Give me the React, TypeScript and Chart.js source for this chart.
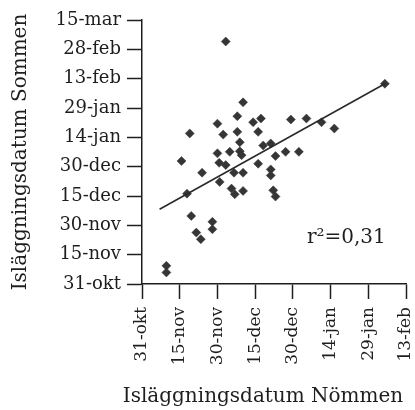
import React, { useEffect, useRef } from 'react';
import { Chart, registerables } from 'chart.js';

Chart.register(...registerables);

// Days counted from 31 October
const xTickLabels = ['31-okt', '15-nov', '30-nov', '15-dec', '30-dec', '14-jan', '29-jan', '13-feb'];
const yTickLabels = ['31-okt', '15-nov', '30-nov', '15-dec', '30-dec', '14-jan', '29-jan', '13-feb', '28-feb', '15-mar'];

const nommenDays = [
  33.3, 96.6, 40.2, 37.9, 30.0, 44.2, 47.3, 59.2, 65.4, 71.4, 76.5, 19.0,
  32.3, 37.9, 46.2, 38.9, 48.2, 51.2, 30.0, 34.9, 38.9, 39.6, 53.1, 57.1,
  62.4, 15.7, 30.7, 33.3, 46.2, 23.9, 36.6, 40.2, 51.2, 51.2, 30.9, 35.6,
  36.9, 40.2, 52.2, 53.1, 17.9, 19.6, 21.6, 23.4, 28.0, 28.0, 9.7, 9.7,
];
const sommenDays = [
  124.0, 102.4, 92.9, 85.8, 82.0, 82.7, 84.6, 84.1, 84.6, 82.7, 79.5, 77.0,
  76.4, 77.8, 77.8, 72.5, 70.8, 71.9, 66.8, 67.6, 67.9, 65.9, 65.4, 67.6,
  67.6, 62.9, 62.0, 60.8, 61.5, 56.9, 56.9, 56.9, 58.6, 55.5, 52.2, 48.8,
  45.9, 47.6, 47.9, 44.7, 46.2, 34.8, 26.3, 22.9, 31.8, 28.0, 9.3, 5.9,
];

const trendX = [7.0, 96.6];
const trendY = [38.2, 102.4];

const xTitle = 'Isläggningsdatum Nömmen';
const yTitle = 'Isläggningsdatum Sommen';
const r2Label = 'r²=0,31';
const r2Pos = { x: 65.6, y: 21 };

const FONT = '"DejaVu Serif", "Liberation Serif", serif';
const INK = '#1e1e1e';

const textPlugin = {
  id: 'texts',
  afterDraw(chart: any) {
    const { ctx, chartArea, scales } = chart;
    ctx.save();
    ctx.fillStyle = INK;
    ctx.font = `20px ${FONT}`;
    // r² annotation
    ctx.textAlign = 'left';
    ctx.textBaseline = 'alphabetic';
    ctx.fillText(r2Label, scales.x.getPixelForValue(r2Pos.x), scales.y.getPixelForValue(r2Pos.y));
    // x title
    ctx.textAlign = 'center';
    ctx.textBaseline = 'middle';
    ctx.fillText(xTitle, (chartArea.left + chartArea.right) / 2 - 11, chart.height - 13);
    // y title
    ctx.translate(21, (chartArea.top + chartArea.bottom) / 2);
    ctx.rotate(-Math.PI / 2);
    ctx.fillText(yTitle, 0, 0);
    ctx.restore();
  },
};

export default function App() {
  const ref = useRef<HTMLCanvasElement | null>(null);

  useEffect(() => {
    if (!ref.current) return;
    const points = nommenDays.map((x, i) => ({ x, y: sommenDays[i] }));
    const trend = trendX.map((x, i) => ({ x, y: trendY[i] }));
    const chart = new Chart(ref.current, {
      type: 'scatter',
      data: {
        datasets: [
          {
            type: 'line',
            data: trend,
            borderColor: '#2a2a2a',
            borderWidth: 1.6,
            pointRadius: 0,
            fill: false,
          } as any,
          {
            data: points,
            pointStyle: 'rectRot',
            pointRadius: 4.5,
            backgroundColor: '#353535',
            borderColor: '#353535',
            borderWidth: 0.5,
          },
        ],
      },
      options: {
        responsive: false,
        animation: false,
        layout: { padding: { top: 20, right: 9, left: 0, bottom: 0 } },
        plugins: { legend: { display: false }, tooltip: { enabled: false } },
        scales: {
          x: {
            type: 'linear',
            min: 0,
            max: 105,
            afterFit: (s: any) => { s.height = 126; s.paddingLeft = 0; s.paddingRight = 0; },
            ticks: {
              stepSize: 15,
              minRotation: 90,
              maxRotation: 90,
              padding: 8,
              color: INK,
              font: { family: FONT, size: 17 },
              callback: (_v: any, i: number) => xTickLabels[i],
            },
            grid: { drawOnChartArea: false, drawTicks: true, tickLength: 15, tickColor: INK, tickWidth: 1.5 },
            border: { display: true, color: INK, width: 1.5 },
          },
          y: {
            type: 'linear',
            min: 0,
            max: 135,
            afterFit: (s: any) => { s.width = 142; s.paddingTop = 0; s.paddingBottom = 0; },
            ticks: {
              stepSize: 15,
              padding: 6,
              color: INK,
              font: { family: FONT, size: 18 },
              callback: (_v: any, i: number) => yTickLabels[i],
            },
            grid: { drawOnChartArea: false, drawTicks: true, tickLength: 15, tickColor: INK, tickWidth: 1.5 },
            border: { display: true, color: INK, width: 1.5 },
          },
        },
      },
      plugins: [textPlugin],
    });
    return () => chart.destroy();
  }, []);

  return (
    <div style={{ position: 'absolute', left: 0, top: 0, width: 415, height: 410, background: '#fff' }}>
      <canvas ref={ref} width={415} height={410} style={{ display: 'block' }} />
    </div>
  );
}
